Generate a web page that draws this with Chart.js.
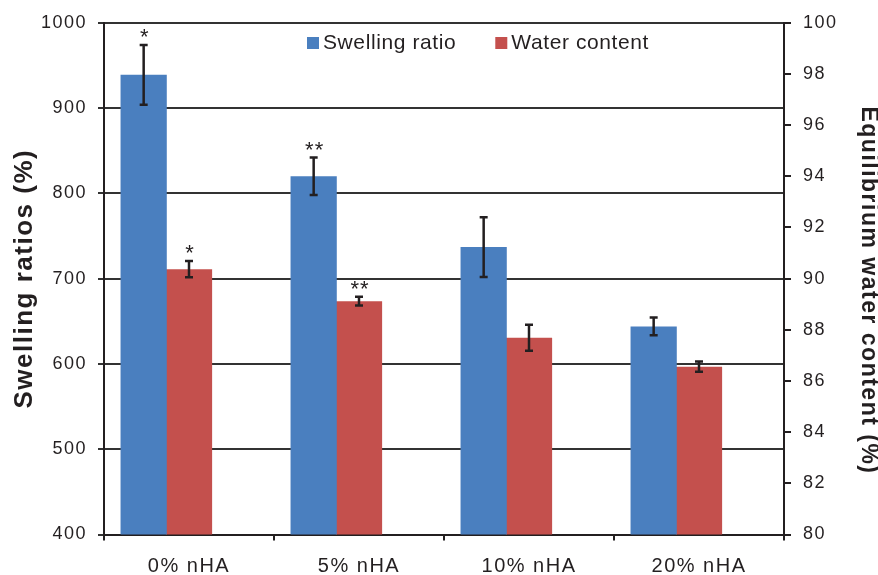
<!DOCTYPE html>
<html>
<head>
<meta charset="utf-8">
<script src="https://cdn.jsdelivr.net/npm/chart.js@4.4.1/dist/chart.umd.min.js"></script>
<style>
  body { margin: 0; background: #fff; }
  .chart { width: 878px; height: 575px; }
</style>
</head>
<body>
<div class="chart"><canvas id="myChart" width="878" height="575"></canvas></div>
<script>
// values
const groups = ['0% nHA', '5% nHA', '10% nHA', '20% nHA']
const swelling = [939, 820, 737, 644]
const swellingErr = [35, 22, 35, 10.5]
const swellingStars = ['*', '**', '', '']
const water = [90.37, 89.12, 87.69, 86.56]
const waterErr = [0.32, 0.17, 0.51, 0.2]
const waterStars = ['*', '**', '', '']
const leftTicks = [400, 500, 600, 700, 800, 900, 1000]
const rightTicks = [80, 82, 84, 86, 88, 90, 92, 94, 96, 98, 100]

const FONT = '"Liberation Sans", Arial, Helvetica, sans-serif'
const INK = '#231f20'

const errs = [swellingErr, waterErr]
const stars = [swellingStars, waterStars]

const spacingPlugin = {
  id: 'spacing',
  beforeDraw(chart) { chart.ctx.letterSpacing = '1.5px' }
}

const errorBarPlugin = {
  id: 'errorBars',
  afterDatasetsDraw(chart) {
    const ctx = chart.ctx
    ctx.save()
    ctx.letterSpacing = '1px'
    ctx.strokeStyle = INK
    ctx.lineWidth = 2.5
    ;[0, 1].forEach(i => {
      const ds = chart.data.datasets[i]
      const scale = chart.scales[ds.yAxisID]
      chart.getDatasetMeta(i).data.forEach((bar, j) => {
        const v = ds.data[j], e = errs[i][j]
        const yt = scale.getPixelForValue(v + e)
        const yb = scale.getPixelForValue(v - e)
        ctx.beginPath()
        ctx.moveTo(bar.x, yt); ctx.lineTo(bar.x, yb)
        ctx.moveTo(bar.x - 4, yt); ctx.lineTo(bar.x + 4, yt)
        ctx.moveTo(bar.x - 4, yb); ctx.lineTo(bar.x + 4, yb)
        ctx.stroke()
        if (stars[i][j]) {
          ctx.fillStyle = INK
          ctx.font = '22px ' + FONT
          ctx.textAlign = 'center'
          ctx.textBaseline = 'alphabetic'
          ctx.fillText(stars[i][j], bar.x + 1, yt - 1)
        }
      })
    })
    ctx.restore()
  }
}

const legendPlugin = {
  id: 'innerLegend',
  afterDraw(chart) {
    const ctx = chart.ctx
    ctx.save()
    ctx.letterSpacing = '0.6px'
    ctx.font = '21px ' + FONT
    ctx.textBaseline = 'alphabetic'
    ctx.textAlign = 'left'
    let x = 307
    ;[0, 1].forEach(i => {
      const ds = chart.data.datasets[i]
      ctx.fillStyle = ds.backgroundColor
      ctx.fillRect(x, 37, 12, 12)
      ctx.fillStyle = INK
      ctx.fillText(ds.label, x + 16, 49)
      x += 16 + ctx.measureText(ds.label).width + 39
    })
    ctx.restore()
  }
}

const ctx = document.getElementById('myChart')
const myChart = new Chart(ctx, {
  type: 'bar',
  data: {
    labels: groups,
    datasets: [
      { label: 'Swelling ratio', data: swelling, yAxisID: 'y', backgroundColor: '#4a7fbf' },
      { label: 'Water content', data: water, yAxisID: 'y1', backgroundColor: '#c4504d' },
      // empty third slot, the original figure leaves room for it in each group
      { label: '', data: groups.map(() => null), yAxisID: 'y', backgroundColor: 'rgba(0,0,0,0)' }
    ]
  },
  options: {
    responsive: false,
    animation: false,
    devicePixelRatio: 1,
    layout: { padding: { top: 20, left: 0, right: 0, bottom: 0 } },
    datasets: { bar: { categoryPercentage: 0.8, barPercentage: 1.02 } },
    plugins: {
      legend: { display: false },
      tooltip: { enabled: false }
    },
    scales: {
      x: {
        afterFit(s) { s.height = 40.5 },
        grid: { drawOnChartArea: false, color: INK, lineWidth: 2, tickLength: 6, offset: true },
        border: { display: true, color: INK, width: 2 },
        ticks: { color: INK, font: { family: FONT, size: 20 }, padding: 14 }
      },
      y: {
        position: 'left',
        min: 400, max: 1000,
        afterFit(s) { s.width = 104 },
        afterBuildTicks(s) { s.ticks = leftTicks.map(v => ({ value: v })) },
        grid: { color: '#333', lineWidth: 2, tickLength: 6 },
        border: { display: true, color: INK, width: 2 },
        ticks: { color: INK, font: { family: FONT, size: 18 }, padding: 11, callback: v => String(v) },
        title: {
          display: true, text: 'Swelling ratios (%)', color: INK,
          font: { family: FONT, size: 26, weight: 'bold', lineHeight: 1.2 },
          padding: { top: 9, bottom: 0 }
        }
      },
      y1: {
        position: 'right',
        min: 80, max: 100,
        afterFit(s) { s.width = 94 },
        afterBuildTicks(s) { s.ticks = rightTicks.map(v => ({ value: v })) },
        grid: { drawOnChartArea: false, color: INK, lineWidth: 2, tickLength: 7 },
        border: { display: true, color: INK, width: 2 },
        ticks: { color: INK, font: { family: FONT, size: 18 }, padding: 12, callback: v => String(v) },
        title: {
          display: true, text: '   Equilibrium water content (%)', color: INK,
          font: { family: FONT, size: 23, weight: 'bold', lineHeight: 0.85 },
          padding: { top: 0, bottom: 0 }
        }
      }
    }
  },
  plugins: [spacingPlugin, errorBarPlugin, legendPlugin]
})
</script>
</body>
</html>
